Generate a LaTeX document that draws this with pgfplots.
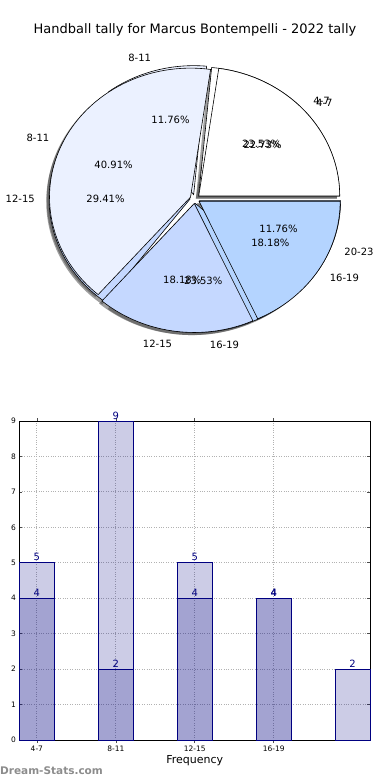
\documentclass[border=0pt]{standalone}
\usepackage{fontspec}
\setmainfont{DejaVu Sans}
\usepackage{pgfplots}
\pgfplotsset{compat=1.18}
\definecolor{navy}{RGB}{0,0,128}
\definecolor{pieA}{RGB}{255,255,255}
\definecolor{pieB}{RGB}{235,241,255}
\definecolor{pieC}{RGB}{197,216,255}
\definecolor{pieD}{RGB}{180,212,255}
\definecolor{pieE}{RGB}{160,198,255}
\newcommand\pielabelfont{\fontsize{10}{12}\selectfont}
% series 1 (front pie) and series 2 (back pie)
\def\Ta{5}\def\Tb{9}\def\Tc{4}\def\Td{4}
\def\Ua{4}\def\Ub{2}\def\Uc{5}\def\Ud{4}\def\Ue{2}
\pgfmathsetmacro\Ttot{\Ta+\Tb+\Tc+\Td}
\pgfmathsetmacro\Tone{360*\Ta/\Ttot}
\pgfmathsetmacro\Ttwo{\Tone+360*\Tb/\Ttot}
\pgfmathsetmacro\Tthree{\Ttwo+360*\Tc/\Ttot}
\pgfmathsetmacro\Utot{\Ua+\Ub+\Uc+\Ud+\Ue}
\pgfmathsetmacro\Uone{360*\Ua/\Utot}
\pgfmathsetmacro\Utwo{\Uone+360*\Ub/\Utot}
\pgfmathsetmacro\Uthree{\Utwo+360*\Uc/\Utot}
\pgfmathsetmacro\Ufour{\Uthree+360*\Ud/\Utot}
\def\Pexp{0.035}
\newcommand\pieshadow[2]{%
 \pgfmathsetmacro\Pmid{(#1+#2)/2}%
 \pgfmathsetmacro\Pdx{\Pexp*cos(\Pmid)-0.02}%
 \pgfmathsetmacro\Pdy{\Pexp*sin(\Pmid)-0.02}%
 \edef\Ptmp{\noexpand\fill[black!75, fill opacity=0.5] (axis cs:\Pdx,\Pdy) \noexpand\foreach \noexpand\k in {0,...,72} {-- (axis cs:{\Pdx+cos(#1+(#2-#1)*\noexpand\k/72)},{\Pdy+sin(#1+(#2-#1)*\noexpand\k/72)})} -- cycle;}%
 \Ptmp}
\newcommand\pieslice[3]{%
 \pgfmathsetmacro\Pmid{(#1+#2)/2}%
 \pgfmathsetmacro\Pdx{\Pexp*cos(\Pmid)}%
 \pgfmathsetmacro\Pdy{\Pexp*sin(\Pmid)}%
 \edef\Ptmp{\noexpand\filldraw[fill=#3, draw=black, line width=0.6pt, line join=miter] (axis cs:\Pdx,\Pdy) \noexpand\foreach \noexpand\k in {0,...,72} {-- (axis cs:{\Pdx+cos(#1+(#2-#1)*\noexpand\k/72)},{\Pdy+sin(#1+(#2-#1)*\noexpand\k/72)})} -- cycle;}%
 \Ptmp}
\newcommand\pielabel[5]{% start end label value total
 \pgfmathsetmacro\Pmid{(#1+#2)/2}%
 \pgfmathsetmacro\Pcos{cos(\Pmid)}%
 \pgfmathsetmacro\Plx{\Pexp*cos(\Pmid)+1.1*cos(\Pmid)}%
 \pgfmathsetmacro\Ply{\Pexp*sin(\Pmid)+1.1*sin(\Pmid)}%
 \pgfmathsetmacro\Pqx{\Pexp*cos(\Pmid)+0.6*cos(\Pmid)}%
 \pgfmathsetmacro\Pqy{\Pexp*sin(\Pmid)+0.6*sin(\Pmid)}%
 \ifdim\Pcos pt>0pt \def\Panc{west}\else\def\Panc{east}\fi
 \pgfmathsetmacro\Ppct{100*#4/#5}%
 \edef\Ptmp{\noexpand\node[anchor=\Panc, inner sep=0pt, font=\noexpand\pielabelfont] at (axis cs:\Plx,\Ply) {#3}; \noexpand\node[inner sep=0pt, font=\noexpand\pielabelfont] at (axis cs:\Pqx,\Pqy) {\noexpand\pgfmathprintnumber[fixed,precision=2,fixed zerofill,assume math mode=true]{\Ppct}\noexpand\%};}%
 \Ptmp}
\begin{document}
\begin{tikzpicture}
\useasboundingbox (0pt,0pt) rectangle (390pt,780pt);
\node[font=\fontsize{13}{15}\selectfont] at (195pt,750pt) {Handball tally for Marcus Bontempelli - 2022 tally};
% ---------------- pie ----------------
\begin{axis}[at={(0pt,387.5pt)}, anchor=south west, scale only axis,
  width=390pt, height=387pt, xmin=-1.383, xmax=1.383, ymin=-1.5, ymax=1.5,
  hide axis, clip=false]
\addplot[draw=none] coordinates {(0,0)};
% shadows
\pieshadow{0}{\Uone}\pieshadow{\Uone}{\Utwo}\pieshadow{\Utwo}{\Uthree}\pieshadow{\Uthree}{\Ufour}\pieshadow{\Ufour}{360}
\pieshadow{0}{\Tone}\pieshadow{\Tone}{\Ttwo}\pieshadow{\Ttwo}{\Tthree}\pieshadow{\Tthree}{360}
% back pie (series 2)
\pieslice{0}{\Uone}{pieA}\pieslice{\Uone}{\Utwo}{pieB}\pieslice{\Utwo}{\Uthree}{pieC}\pieslice{\Uthree}{\Ufour}{pieD}\pieslice{\Ufour}{360}{pieE}
% front pie (series 1)
\pieslice{0}{\Tone}{pieA}\pieslice{\Tone}{\Ttwo}{pieB}\pieslice{\Ttwo}{\Tthree}{pieC}\pieslice{\Tthree}{360}{pieD}
% labels
\pielabel{0}{\Uone}{4-7}{\Ua}{\Utot}
\pielabel{\Uone}{\Utwo}{8-11}{\Ub}{\Utot}
\pielabel{\Utwo}{\Uthree}{12-15}{\Uc}{\Utot}
\pielabel{\Uthree}{\Ufour}{16-19}{\Ud}{\Utot}
\pielabel{\Ufour}{360}{20-23}{\Ue}{\Utot}
\pielabel{0}{\Tone}{4-7}{\Ta}{\Ttot}
\pielabel{\Tone}{\Ttwo}{8-11}{\Tb}{\Ttot}
\pielabel{\Ttwo}{\Tthree}{12-15}{\Tc}{\Ttot}
\pielabel{\Tthree}{360}{16-19}{\Td}{\Ttot}
\end{axis}
% ---------------- bars ----------------
\begin{axis}[at={(19.5pt,40pt)}, anchor=south west, scale only axis,
  width=350.5pt, height=319pt,
  xmin=-0.22, xmax=4.22, ymin=0, ymax=9,
  xtick={0,1,2,3}, xticklabels={4-7,8-11,12-15,16-19},
  ytick={0,1,...,9},
  grid=major, grid style={dotted, gray!60, line width=0.8pt},
  axis line style={line width=0.8pt},
  tick style={black!70, line width=0.6pt}, major tick length=3pt,
  tick label style={font=\fontsize{7.5}{9}\selectfont},
  /pgf/number format/assume math mode=true,
  xlabel={Frequency}, xlabel style={font=\fontsize{11}{13}\selectfont, yshift=3pt},
  xticklabel style={yshift=1pt},
  clip=false,
  ybar, bar width=0.44,
  nodes near coords,
  nodes near coords style={font=\fontsize{10}{12}\selectfont, text=navy, inner sep=1.5pt},
]
\addplot[bar shift=0pt, draw=navy, line width=0.6pt, fill=navy, fill opacity=0.2, text opacity=1]
  coordinates {(0,5) (1,9) (2,4) (3,4)};
\addplot[bar shift=0pt, draw=navy, line width=0.6pt, fill=navy, fill opacity=0.2, text opacity=1]
  coordinates {(0,4) (1,2) (2,5) (3,4) (4,2)};
\end{axis}
\node[anchor=west, text=black!45, font=\fontsize{10.5}{12}\selectfont\bfseries, inner sep=0pt] at (0pt,9pt) {Dream-Stats.com};
\end{tikzpicture}
\end{document}
